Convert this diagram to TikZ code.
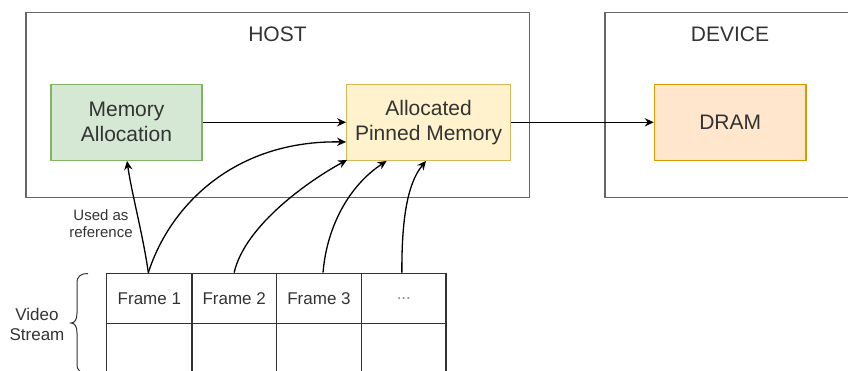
\documentclass[tikz,border=0pt]{standalone}
\usepackage{fontspec}
\setmainfont{Liberation Sans}
\usetikzlibrary{arrows.meta}

\definecolor{txt}{HTML}{333333}
\definecolor{frame}{HTML}{666666}
\definecolor{greenfill}{HTML}{D5E8D4}
\definecolor{greenline}{HTML}{82B366}
\definecolor{yellowfill}{HTML}{FFF2CC}
\definecolor{yellowline}{HTML}{D6B656}
\definecolor{orangefill}{HTML}{FFE6CC}
\definecolor{orangeline}{HTML}{D79B00}
\definecolor{dots}{HTML}{8C8C8C}

\tikzset{
  container/.style={draw=frame, line width=1.5pt, minimum height=185.2pt, inner sep=0pt},
  block/.style={line width=1.3pt, minimum height=76pt, inner sep=0pt, align=center,
                text=txt, font=\fontsize{21}{25}\selectfont},
  title/.style={text=txt, font=\fontsize{21}{25}\selectfont, inner sep=0pt},
  cell/.style={draw=txt, line width=1.3pt, minimum height=50.4pt, inner sep=0pt,
               text=txt, font=\fontsize{17}{20}\selectfont},
  note/.style={text=txt, align=center, inner sep=0pt},
  arr/.style={draw=black, line width=1.3pt, -{Stealth[length=9pt,width=8.3pt,inset=3pt]}},
  bracket/.style={draw=txt, line width=1pt}
}

\begin{document}
\begin{tikzpicture}[x=1pt, y=-1pt]
\useasboundingbox (0,0) rectangle (848,371);
\clip (0,0) rectangle (848,371);

% containers
\node[container, minimum width=503.5pt] (host) at (277.5,105.1) {};
\node[container, minimum width=250pt] (device) at (730,105.1) {};
\node[title] (hostlbl) at (277.5,34) {HOST};
\node[title] (devlbl) at (730,34) {DEVICE};

% memory blocks
\node[block, fill=greenfill, draw=greenline, minimum width=151pt] (ma) at (126.5,122.3) {Memory\\Allocation};
\node[block, fill=yellowfill, draw=yellowline, minimum width=163.8pt] (apm) at (428.6,122.3) {Allocated\\Pinned Memory};
\node[block, fill=orangefill, draw=orangeline, minimum width=151.7pt] (dram) at (730.2,122.3) {DRAM};

% video stream table
\node[cell, minimum width=85.3pt] (f1) at (149.35,298.5) {Frame 1};
\node[cell, minimum width=84.3pt] (f2) at (234.15,298.5) {Frame 2};
\node[cell, minimum width=85.4pt] (f3) at (319.0,298.5) {Frame 3};
\node[cell, minimum width=84.3pt, text=dots] (f4) at (403.85,298.5) {...};
\node[cell, minimum width=85.3pt] (g1) at (149.35,348.9) {};
\node[cell, minimum width=84.3pt] (g2) at (234.15,348.9) {};
\node[cell, minimum width=85.4pt] (g3) at (319.0,348.9) {};
\node[cell, minimum width=84.3pt] (g4) at (403.85,348.9) {};

% brace and side labels
\draw[bracket] (88,273.5) .. controls (81,273.5) and (77,276) .. (77,283) -- (77,313)
  .. controls (77,320) and (74.5,323) .. (71,323)
  .. controls (74.5,323) and (77,326) .. (77,333) -- (77,364)
  .. controls (77,371) and (81,373.5) .. (88,373.5);
\node[note, font=\fontsize{17}{20}\selectfont] (vs) at (37,324) {Video\\Stream};
\node[note, font=\fontsize{15}{17}\selectfont] (ref) at (101,224) {Used as\\reference};

% data flow
\draw[arr] (ma.east) -- (apm.west);
\draw[arr] (apm.east) -- (dram.west);

% frame references
\draw[arr] ([xshift=-1pt]f1.north) .. controls (143,235) and (132,195) .. ([xshift=0.5pt]ma.south);
\draw[arr] ([xshift=-1pt]f1.north) .. controls (170,205) and (235,140) .. ([yshift=-19.7pt]apm.west);
\draw[arr] (f2.north) .. controls (245,225) and (310,180) .. ([xshift=1pt,yshift=1pt]apm.south west);
\draw[arr] ([xshift=4pt]f3.north) .. controls (327,225) and (350,185) .. ([xshift=-42pt]apm.south);
\draw[arr] ([xshift=-2pt]f4.north) .. controls (401.7,225) and (406,185) .. ([xshift=-2.6pt]apm.south);
\end{tikzpicture}
\end{document}
